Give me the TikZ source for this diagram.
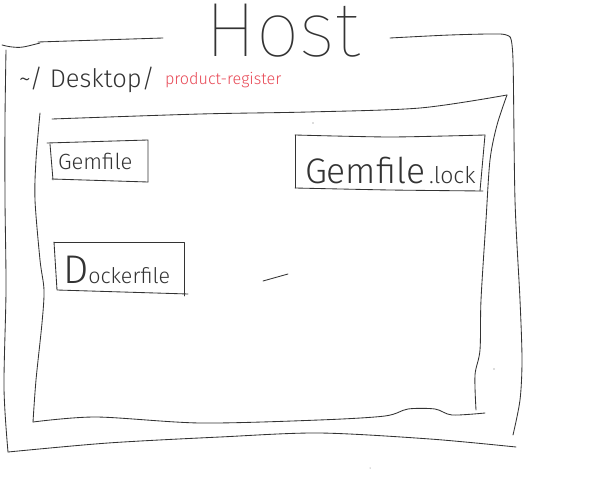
\documentclass[tikz,border=0pt]{standalone}
\usepackage{fontspec}
\IfFontExistsTF{Fira Sans Thin}
  {\newfontfamily\thinfont{Fira Sans Thin}}
  {\IfFontExistsTF{Lato Hairline}
    {\newfontfamily\thinfont{Lato Hairline}}
    {\IfFontExistsTF{DejaVu Sans ExtraLight}
      {\newfontfamily\thinfont{DejaVu Sans ExtraLight}}
      {\newfontfamily\thinfont{Latin Modern Sans}}}}
\IfFontExistsTF{Fira Sans Light}
  {\newfontfamily\handfont{Fira Sans Light}}
  {\IfFontExistsTF{Lato Light}
    {\newfontfamily\handfont{Lato Light}}
    {\IfFontExistsTF{DejaVu Sans ExtraLight}
      {\newfontfamily\handfont{DejaVu Sans ExtraLight}}
      {\newfontfamily\handfont{Latin Modern Sans}}}}
\definecolor{ink}{rgb}{0.2,0.2,0.2}
\definecolor{redink}{RGB}{232,72,85}
\begin{document}
\begin{tikzpicture}[x=1pt,y=-1pt,
  stroke/.style={draw=ink,line width=0.85pt,line cap=round,line join=round},
  hand/.style={inner sep=0pt,outer sep=0pt,text=ink,font=\handfont},
  speck/.style={fill=ink!70,draw=none}]
\useasboundingbox[fill=white] (0,0) rectangle (600,484);

% ---------- outer frame (Host) ----------
\draw[stroke] plot[smooth,tension=0.6] coordinates {(2,45) (12,47) (23,47) (40,43)};
\draw[stroke] plot[smooth,tension=0.5] coordinates {(38,42) (100,40) (163,38)};
\draw[stroke] plot[smooth,tension=0.5] coordinates {(390,38) (450,35) (500,34) (510,37)};
\draw[stroke] plot[smooth,tension=0.5] coordinates {(510,37) (513,60) (515,200) (520,300) (522,360) (520,400) (513,435)};
\draw[stroke] plot[smooth,tension=0.5] coordinates {(6,50) (5,120) (5,200) (6,290) (4,388) (8,452)};
\draw[stroke] plot[smooth,tension=0.5] coordinates {(8,452) (108,443) (220,437) (319,433) (430,439) (516,447)};

% ---------- inner frame (folder) ----------
\draw[stroke] plot[smooth,tension=0.5] coordinates {(40,113) (36,160) (35,200) (40,260) (44,290) (42,323) (36,380) (33,422)};
\draw[stroke] plot[smooth,tension=0.5] coordinates {(52,119) (200,114) (308,112) (420,108) (507,95)};
\draw[stroke] plot[smooth,tension=0.5] coordinates {(507,95) (497,125) (490,160) (486,220) (481,300) (480,350) (475,375) (476,410)};
\draw[stroke] plot[smooth,tension=0.5] coordinates {(33,422) (96,417) (200,423) (319,420) (385,416) (408,409) (435,409) (452,415) (485,413)};

% ---------- title and path ----------
\node[hand,anchor=base,font=\thinfont\fontsize{77}{77}\selectfont] (host) at (283,57) {Host};
\node[hand,anchor=base west,font=\handfont\fontsize{25.5}{26}\selectfont] (path) at (19,88) {\textasciitilde/ Desktop/};
\node[hand,anchor=base west,text=redink,font=\handfont\fontsize{16.2}{16}\selectfont] (proj) at (165,85) {product-register};

% ---------- Gemfile ----------
\draw[stroke] (47,143) -- (148,140) -- (148,182);
\draw[stroke] (50,144) -- (53,180);
\draw[stroke] (52,179) -- (148,182);
\node[hand,anchor=base west,font=\handfont\fontsize{22}{22}\selectfont] (gemfile) at (58,170) {Gemfile};

% ---------- Gemfile.lock ----------
\draw[stroke] plot[smooth,tension=0.4] coordinates {(295,135) (390,137) (485,135)};
\draw[stroke] (485,135) -- (480,191);
\draw[stroke] plot[smooth,tension=0.4] coordinates {(295,188) (390,190) (483,191)};
\draw[stroke] (295,135) -- (295,188);
\node[hand,anchor=base west] (gemlock) at (305,183) {\fontsize{35.5}{35}\selectfont Gemfile\hspace{4pt}\fontsize{23}{23}\selectfont.lock};

% ---------- Dockerfile ----------
\draw[stroke] (54,242) -- (184,242) -- (184,296);
\draw[stroke] (54,242) -- (57,290) -- (188,294);
\node[hand,anchor=base west] (docker) at (63,283) {\fontsize{40}{40}\selectfont D\fontsize{21.5}{21}\selectfont ockerfile};

% ---------- stray marks ----------
\coordinate (s1) at (263,281);
\coordinate (s2) at (288,274);
\draw[stroke] (s1) -- (s2);
\fill[speck] (313,123) circle (0.6);
\fill[speck] (494,369) circle (0.6);
\fill[speck] (370,468) circle (0.5);
\end{tikzpicture}
\end{document}
